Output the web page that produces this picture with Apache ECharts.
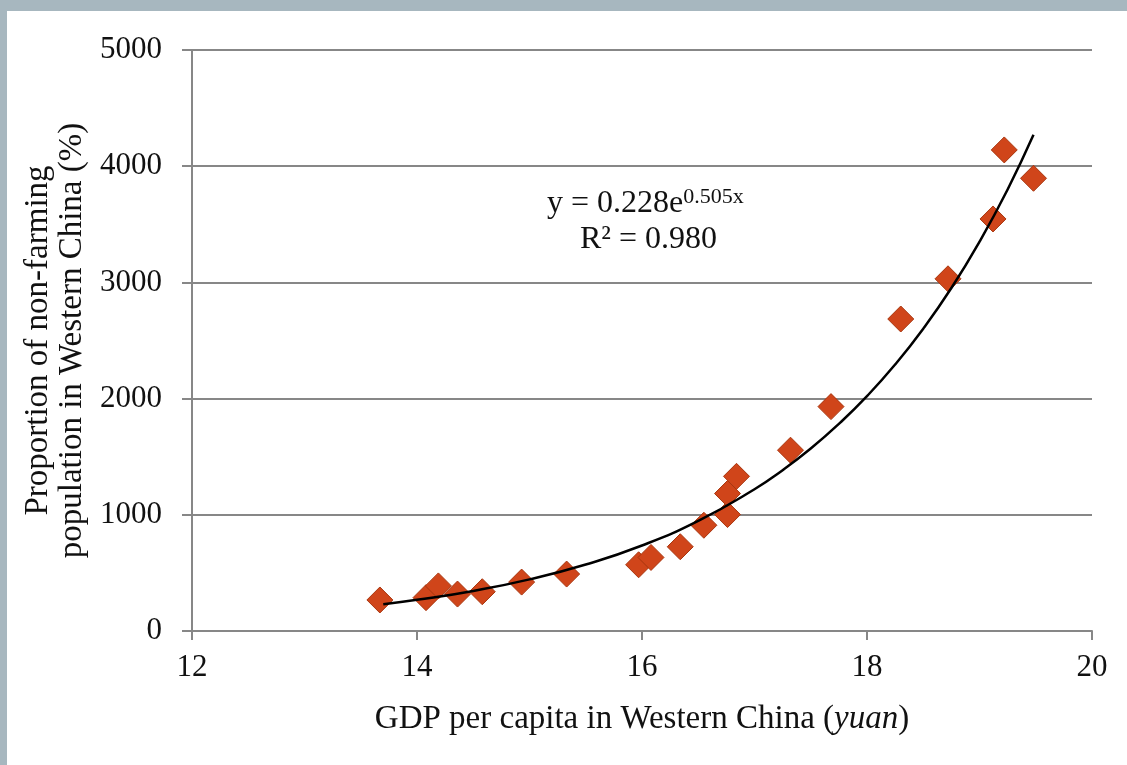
<!DOCTYPE html>
<html>
<head>
<meta charset="utf-8">
<script src="https://cdn.jsdelivr.net/npm/echarts@6/dist/echarts.min.js"></script>
<style>
html,body{margin:0;padding:0;background:#a7b7bf;}
#frame{position:absolute;left:7px;top:11px;width:1120px;height:754px;background:#ffffff;}
#chart{position:absolute;left:-7px;top:-11px;width:1127px;height:765px;}
</style>
</head>
<body>
<div id="frame"><div id="chart"></div></div>
<script>
// Observed data points (GDP per capita, proportion of non-farming population)
const gdp = [13.67, 14.08, 14.19, 14.36, 14.58, 14.93, 15.33, 15.97, 16.08, 16.34, 16.55, 16.76, 16.76, 16.84, 17.32, 17.68, 18.30, 18.72, 19.12, 19.22, 19.48];
const nonFarm = [267, 287, 388, 318, 338, 421, 490, 570, 633, 725, 910, 1002, 1183, 1331, 1556, 1931, 2685, 3031, 3546, 4140, 3896];
// Trend line points
const trendX = [13.7, 14.0, 14.5, 15.0, 15.5, 16.0, 16.5, 17.0, 17.25, 17.5, 17.75, 18.0, 18.25, 18.5, 18.75, 19.0, 19.25, 19.48];
const trendY = [230, 268, 345, 444, 572, 736, 948, 1220, 1384, 1570, 1782, 2021, 2293, 2602, 2952, 3350, 3800, 4270];
// Axis ticks
const xTicks = [12, 14, 16, 18, 20];
const yTicks = [0, 1000, 2000, 3000, 4000, 5000];

const font = '"Liberation Serif", "Times New Roman", serif';
const chart = echarts.init(document.getElementById('chart'), null, {renderer: 'canvas'});
const gridColor = '#878787';

chart.setOption({
  backgroundColor: 'transparent',
  animation: false,
  grid: {left: 192, right: 35, top: 50, bottom: 134, containLabel: false},
  xAxis: {
    type: 'value',
    min: xTicks[0], max: xTicks[xTicks.length - 1], interval: 2,
    axisLine: {show: true, onZero: false, lineStyle: {color: gridColor, width: 2}},
    axisTick: {show: true, length: 9, lineStyle: {color: gridColor, width: 2}},
    splitLine: {show: false},
    axisLabel: {color: '#111', fontFamily: font, fontSize: 31, margin: 21, formatter: v => String(v)},
    name: '{a|GDP per capita in Western China (}{i|yuan}{a|)}',
    nameLocation: 'middle', nameGap: 72,
    nameTextStyle: {
      rich: {
        a: {fontFamily: font, fontSize: 33, color: '#111'},
        i: {fontFamily: font, fontSize: 33, color: '#111', fontStyle: 'italic'}
      }
    }
  },
  yAxis: {
    type: 'value',
    min: yTicks[0], max: yTicks[yTicks.length - 1], interval: 1000,
    axisLine: {show: true, lineStyle: {color: gridColor, width: 2}},
    axisTick: {show: true, length: 10, lineStyle: {color: gridColor, width: 2}},
    splitLine: {show: true, lineStyle: {color: gridColor, width: 2}},
    axisLabel: {color: '#111', fontFamily: font, fontSize: 31, margin: 30, formatter: v => String(v)},
    name: 'Proportion of non-farming\npopulation in Western China (%)',
    nameLocation: 'middle', nameRotate: 90, nameGap: 91,
    nameTextStyle: {fontFamily: font, fontSize: 33, color: '#111', lineHeight: 34}
  },
  series: [
    {
      type: 'scatter',
      data: gdp.map((x, i) => [x, nonFarm[i]]),
      symbol: 'diamond',
      symbolSize: [26, 26],
      itemStyle: {color: '#d0451a', borderColor: '#a8360f', borderWidth: 1, opacity: 1},
      z: 3
    },
    {
      type: 'line',
      data: trendX.map((x, i) => [x, trendY[i]]),
      smooth: true,
      showSymbol: false,
      lineStyle: {color: '#000', width: 2.5},
      z: 4
    }
  ],
  graphic: [
    {
      type: 'text', left: 547, top: 186,
      style: {
        text: '{a|y = 0.228e}{s|0.505x}',
        rich: {
          a: {fontFamily: font, fontSize: 32, fill: '#111'},
          s: {fontFamily: font, fontSize: 22, fill: '#111', verticalAlign: 'top', padding: [0, 0, 14, 0]}
        }
      }
    },
    {
      type: 'text', left: 580, top: 224,
      style: {text: 'R² = 0.980', fontFamily: font, fontSize: 32, fill: '#111'}
    }
  ]
});
</script>
</body>
</html>
